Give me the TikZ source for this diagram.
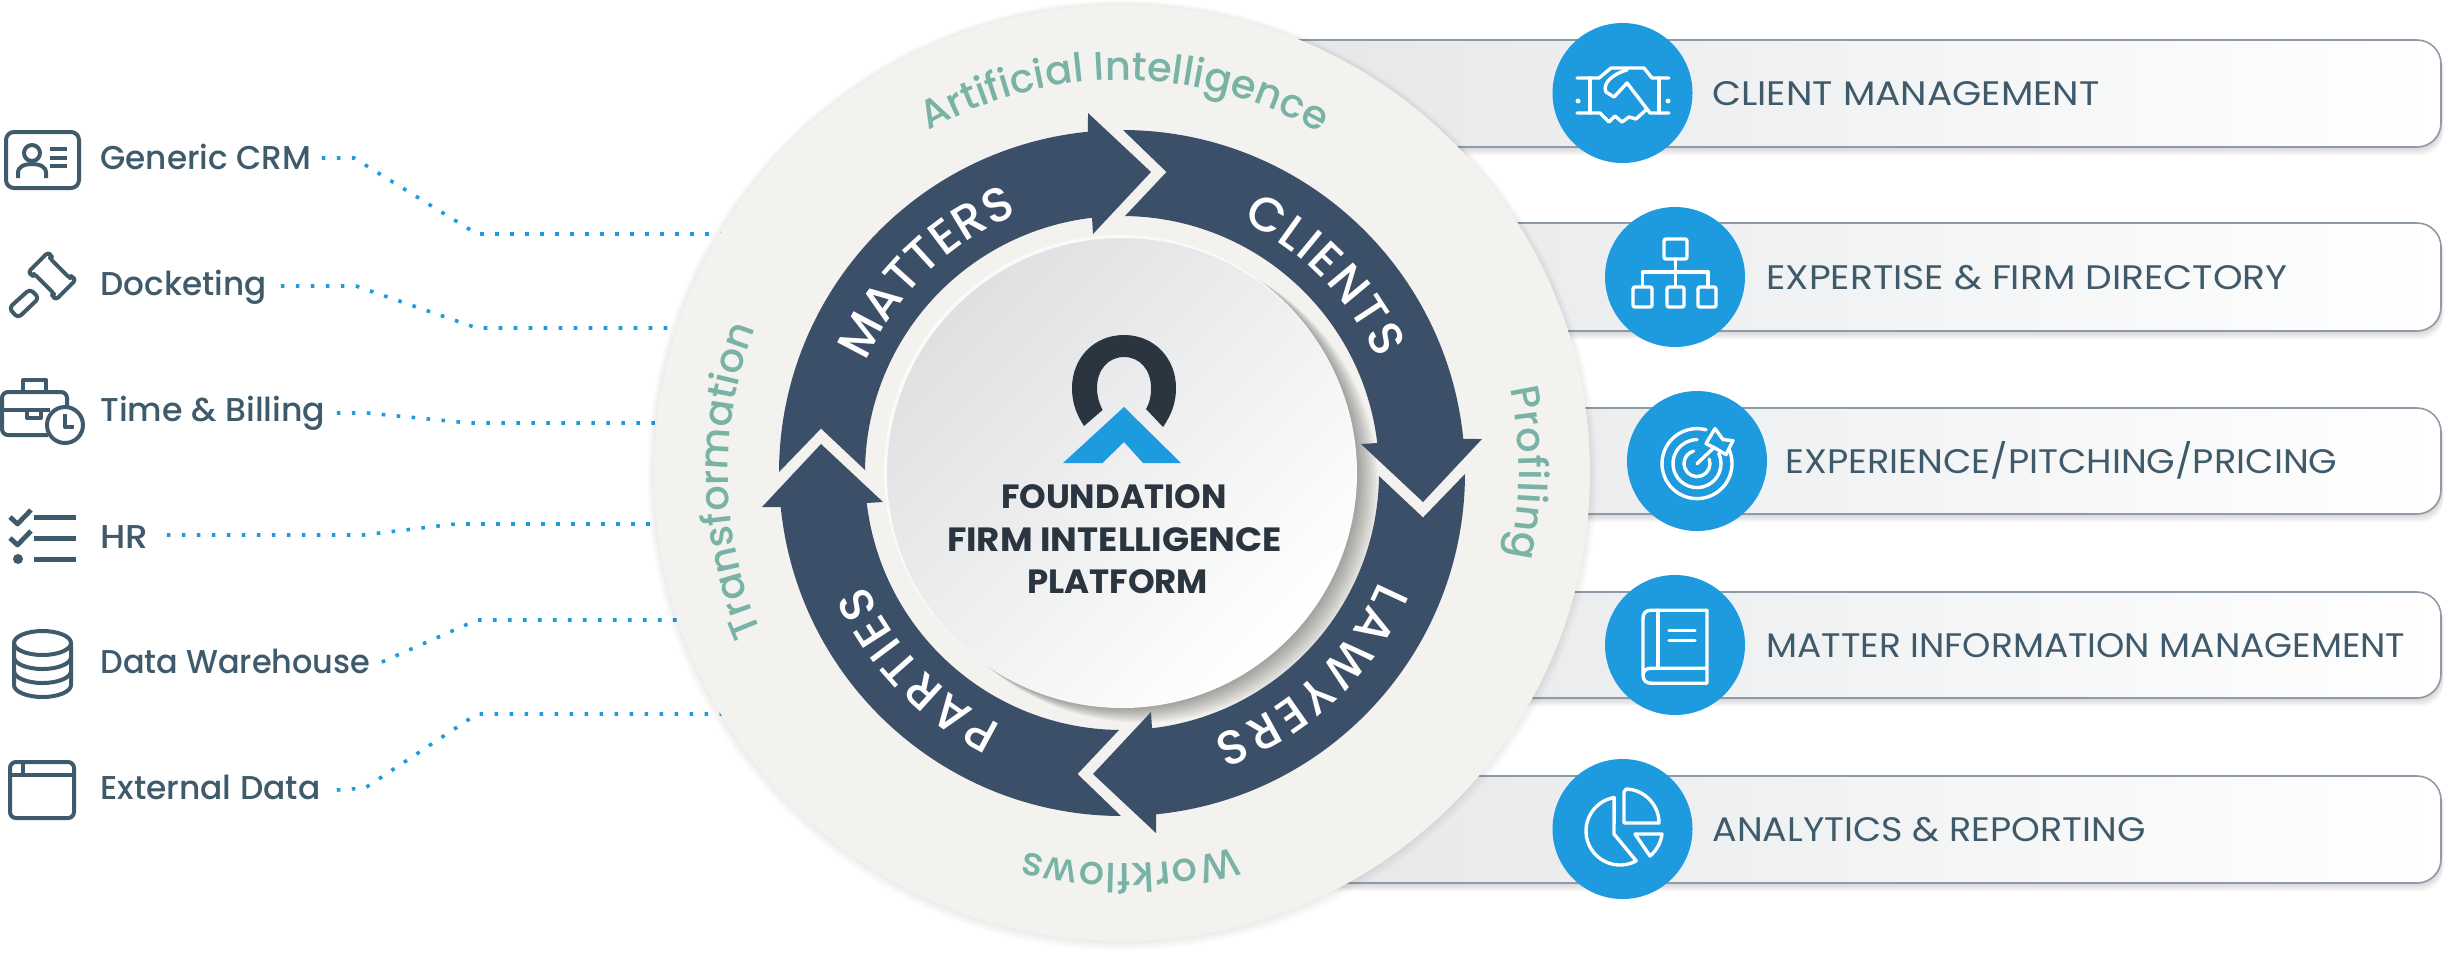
\documentclass[tikz,border=0pt]{standalone}
\usepackage{fontspec}
\usepackage{graphicx}
\setmainfont{Poppins}
\newfontfamily\lblfont{Poppins Medium}
\usetikzlibrary{decorations.text,calc}
\pgfdeclarelayer{under}
\pgfsetlayers{under,main}
\definecolor{slate}{HTML}{3F5B6B}
\definecolor{navy}{HTML}{3C4F68}
\definecolor{bluec}{HTML}{1E9ADE}
\definecolor{sand}{HTML}{F3F2EE}
\definecolor{greenc}{HTML}{78B3A6}
\definecolor{inkc}{HTML}{2B3540}
\definecolor{barline}{HTML}{8E9AA8}
\definecolor{barleft}{HTML}{E3E5E7}
\definecolor{barmid}{HTML}{F3F4F4}
\definecolor{discA}{HTML}{DFE0E2}
\definecolor{discB}{HTML}{F4F5F5}
\newcommand\tw[2]{\resizebox{\dimexpr#1pt/2\relax}{\height}{#2}}
\newcommand\greenfmt{\lblfont\fontsize{20}{20}\selectfont\color{greenc}}
\newcommand\whitefmt{\lblfont\fontsize{24}{24}\selectfont\color{white}}
\newcommand\ringlabel[5]{\path[decorate,decoration={text along path,text={|#4|#5},text align=fit to path}] (1122,473)++(#2:#1) arc[start angle=#2,end angle=#3,radius=#1];}
\tikzset{
  leftlabel/.style={anchor=west,inner sep=0pt,text height=11.5pt,text depth=0pt,text=slate,font=\lblfont\fontsize{16.5}{18}\selectfont},
  rightlabel/.style={anchor=west,inner sep=0pt,text height=12pt,text depth=0pt,text=slate,font=\fontsize{17}{20}\selectfont},
  titlelabel/.style={anchor=base,inner sep=0pt,text=inkc,font=\bfseries\fontsize{16.8}{20}\selectfont},
  dots/.style={draw=bluec,line width=1.8pt,dash pattern=on 1.8pt off 5.7pt},
  darkicon/.style={draw=slate,line width=2pt,line join=round,fill=none},
  wline/.style={draw=white,line width=1.7pt,line join=round,line cap=round,fill=none},
  bluedisc/.style={circle,fill=bluec,inner sep=0pt,minimum size=70pt},
  hubdisc/.style={circle,inner sep=0pt,minimum size=468pt}
}
\begin{document}
\begin{tikzpicture}[x=0.5pt,y=-0.5pt]
\useasboundingbox (0,0) rectangle (2451,955);

% ---------- named hub and left labels
\node[hubdisc] (disc) at (1122,473) {};
\node[leftlabel] (crm) at (100,158) {\tw{211}{Generic CRM}};
\node[leftlabel] (dock) at (100,284) {\tw{166}{Docketing}};
\node[leftlabel] (time) at (100,410) {\tw{225}{Time \& Billing}};
\node[leftlabel] (hr) at (100,537) {\tw{48}{HR}};
\node[leftlabel] (dw) at (100,662) {\tw{270}{Data Warehouse}};
\node[leftlabel] (ext) at (100,788) {\tw{220}{External Data}};

% ---------- connectors
\coordinate (a1) at (354,158); \coordinate (a2) at (477,234);
\coordinate (b1) at (356,286); \coordinate (b2) at (477,328);
\coordinate (c1) at (367,413); \coordinate (c2) at (470,423);
\coordinate (d1) at (363,535); \coordinate (d2) at (455,524);
\coordinate (e2) at (477,620);
\coordinate (f1) at (365,788); \coordinate (f2) at (477,714);
\begin{pgfonlayer}{under}
\fill[white] (0,0) rectangle (2451,955);
\draw[dots] ([xshift=5pt]crm.east) -- (a1) -- (a2) -- (a2 -| disc.center);
\draw[dots] ([xshift=7pt,yshift=-1pt]dock.east) -- (b1) -- (b2) -- (b2 -| disc.center);
\draw[dots] ([xshift=5.5pt,yshift=-1.5pt]time.east) -- (c1) -- (c2) -- (c2 -| disc.center);
\draw[dots] ([xshift=9pt,yshift=1pt]hr.east) -- (d1) -- (d2) -- (d2 -| disc.center);
\draw[dots] ([xshift=5.5pt]dw.east) -- (e2) -- (e2 -| disc.center);
\draw[dots] ([xshift=8pt,yshift=-1pt]ext.east) -- (f1) -- (f2) -- (f2 -| disc.center);
\end{pgfonlayer}

% ---------- right bars
\foreach \t/\b in {40/147,223/331,408/514,592/698,776/883}{
  \foreach \s in {1,...,7}{
    \fill[black,fill opacity=.022,rounded corners=12pt] (1200,\t+\s) rectangle (2441+.4*\s,\b+\s*1.2);
  }
  \shade[left color=barleft,middle color=barmid,right color=white,draw=barline,line width=.8pt,rounded corners=12pt] (1200,\t) rectangle (2441,\b);
}

% ---------- outer disc with soft edge
\foreach \s in {1,...,6}{
  \fill[black,fill opacity=.012] (1122,473+.4*\s) circle[radius=468+1.2*\s];
}
\fill[sand] (disc.center) circle[radius=468];

% ---------- shadow under inner disc
\foreach \s in {1,...,10}{
  \fill[black,fill opacity=.036] (1122+1.9*\s,473+1.25*\s) circle[radius=235+.2*\s];
}

% ---------- arrows of the ring
\foreach \a in {0,-90,-180,-270}{
\begin{scope}[shift={(1122,473)},rotate=\a]
  \fill[navy] (180.17:343) arc[start angle=180.17,end angle=264.3,radius=343]
     -- (-34,-360) -- (29,-301) -- (-29,-239) -- (263.3:257)
     arc[start angle=263.3,end angle=180.67,radius=257] -- (-301,-44.5) -- cycle;
\end{scope}
}

% ---------- inner disc
\fill[white!60!sand] (1120,471) circle[radius=236];
\shade[top color=discA,middle color=discB,bottom color=white,shading angle=45] (1122,473) circle[radius=235];

% ---------- logo
\fill[inkc] (1084,426) .. controls (1076,414) and (1072,402) .. (1072,388)
  .. controls (1072,358) and (1094,335) .. (1124,335)
  .. controls (1154,335) and (1176,358) .. (1176,388)
  .. controls (1176,402) and (1172,414) .. (1163,427)
  -- (1146,409) .. controls (1150,402) and (1151,396) .. (1151,388)
  .. controls (1151,370) and (1140,357) .. (1124,357)
  .. controls (1108,357) and (1097,370) .. (1097,388)
  .. controls (1097,396) and (1099,403) .. (1102.6,410) -- cycle;
\fill[bluec] (1124,407) -- (1181,463) -- (1143,463) -- (1124,442) -- (1102.5,463) -- (1063,463) -- cycle;

% ---------- title
\node[titlelabel] (t1) at (1114,508) {\tw{226}{FOUNDATION}};
\node[titlelabel] (t2) at (1114.5,551) {\tw{335}{FIRM INTELLIGENCE}};
\node[titlelabel] (t3) at (1117.5,593) {\tw{181}{PLATFORM}};

% ---------- text on the rings
\ringlabel{393}{240.5}{299.7}{\greenfmt}{Artificial Intelligence}
\ringlabel{397}{347.7}{372.3}{\greenfmt}{Profiling}
\ringlabel{391}{73.2}{104.4}{\greenfmt}{Workflows}
\ringlabel{394}{156.2}{201.6}{\greenfmt}{Transformation}
\ringlabel{279}{203.4}{248}{\whitefmt}{MATTERS}
\ringlabel{279}{295.5}{336}{\whitefmt}{CLIENTS}
\ringlabel{279}{22.8}{71}{\whitefmt}{LAWYERS}
\ringlabel{279}{115.5}{156.5}{\whitefmt}{PARTIES}

% ---------- blue discs and right labels
\node[bluedisc] (k1) at (1622.5,93) {};
\node[bluedisc] (k2) at (1675,277) {};
\node[bluedisc] (k3) at (1697,461) {};
\node[bluedisc] (k4) at (1675,645) {};
\node[bluedisc] (k5) at (1622.5,829) {};
\node[rightlabel] (r1) at (1712,93) {\tw{387}{CLIENT MANAGEMENT}};
\node[rightlabel] (r2) at (1766,277) {\tw{521}{EXPERTISE \& FIRM DIRECTORY}};
\node[rightlabel] (r3) at (1785,461) {\tw{552}{EXPERIENCE/PITCHING/PRICING}};
\node[rightlabel] (r4) at (1766,645) {\tw{639}{MATTER INFORMATION MANAGEMENT}};
\node[rightlabel] (r5) at (1712,829) {\tw{433}{ANALYTICS \& REPORTING}};

% ---------- white icons: handshake
\draw[wline] (1577,78) -- (1599,78) -- (1611,68) -- (1644,68) -- (1652,78) -- (1669,78);
\draw[wline] (1590,78) -- (1590,113); \draw[wline] (1659,78) -- (1659,113);
\draw[wline] (1577,113) -- (1600,113) -- (1609,122) -- (1615,116) -- (1622,122) -- (1629,117) -- (1636,119) -- (1647,109) -- (1650,113) -- (1669,113);
\draw[wline] (1627,70) .. controls (1612,74) and (1602,84) .. (1606,92) -- (1614,97) -- (1627,83) -- (1647,109);
\fill[white] (1578,101) circle[radius=2.5]; \fill[white] (1668,101) circle[radius=2.5];

% org chart
\draw[wline,rounded corners=1pt] (1664,239) rectangle (1687,259);
\draw[wline] (1675.5,259) -- (1675.5,287);
\draw[wline] (1642.5,287) -- (1642.5,272) -- (1708,272) -- (1708,287);
\foreach \x/\y in {1633/1652,1667/1684,1698/1716}{
  \draw[wline,rounded corners=1pt] (\x,287) rectangle (\y,307);
}

% target
\begin{scope}[yshift=-.8pt]
\begin{scope}[shift={(1697,462)}]
  \draw[wline] (-30:35) arc[start angle=-30,end angle=285,radius=35];
  \draw[wline] (-25:24) arc[start angle=-25,end angle=270,radius=24];
  \draw[wline] (-20:13) arc[start angle=-20,end angle=255,radius=13];
\end{scope}
\draw[wline] (1697,462) -- (1716,444);
\draw[wline,fill=bluec] (1715,427) -- (1723,438) -- (1733,439) -- (1726,453) -- (1716,447) -- (1706,442) -- cycle;
\end{scope}

% book
\begin{scope}[yshift=-1.6pt]
\draw[wline] (1707,665) -- (1707,607) -- (1651,607) .. controls (1646,607) and (1643,610) .. (1643,615) -- (1643,672) .. controls (1643,677) and (1646,680) .. (1651,680) -- (1707,680) -- (1707,665) -- (1651,665) .. controls (1646,665) and (1643,668) .. (1643,672);
\draw[wline] (1658,607) -- (1658,665);
\draw[wline] (1669,627) -- (1695,627);
\draw[wline] (1669,637) -- (1695,637);
\end{scope}

% pie
\begin{scope}[yshift=-3pt]
\draw[wline] (1620,825)++(260:34) arc[start angle=260,end angle=61.6,radius=34] -- (1614,828) -- cycle;
\draw[wline] (1624,786) -- (1624,817) -- (1659,817) arc[start angle=0,end angle=-88,radius=34] -- cycle;
\draw[wline] (1635,828) -- (1662,828) .. controls (1661,836) and (1657,844) .. (1650,850) -- cycle;
\end{scope}

% ---------- dark icons: id card
\draw[darkicon,rounded corners=4pt] (6,132) rectangle (79,188);
\draw[darkicon] (32,153) circle[radius=8];
\draw[darkicon] (18,178) -- (18,173) .. controls (18,166) and (25,164) .. (32,164) .. controls (39,164) and (46,166) .. (46,173) -- (46,178);
\draw[darkicon] (50,149) -- (67,149); \draw[darkicon] (50,157.5) -- (67,157.5); \draw[darkicon] (50,166) -- (67,166);

% gavel
\draw[darkicon,rounded corners=1.5pt] (48.1,252.3) -- (52,256.2) -- (49.9,258.3) -- (69.7,278.1) -- (71.8,276) -- (75.7,279.9) -- (55.9,299.7) -- (52,295.8) -- (54.1,293.7) -- (34.3,273.9) -- (32.2,276) -- (28.3,272.1) -- cycle;
\draw[darkicon,rounded corners=2pt] (30,289) -- (39,298) -- (18,318) -- (9,308) -- cycle;

% briefcase
\draw[darkicon] (23,392) -- (23,380) -- (46,380) -- (46,392);
\draw[darkicon,rounded corners=3pt] (48,435) -- (2,435) -- (2,392) -- (67,392) -- (67,408);
\draw[darkicon] (2,410) -- (50,410);
\draw[darkicon] (27,410) -- (27,418) -- (41,418) -- (41,410);
\draw[darkicon,fill=white] (65,425) circle[radius=18];
\draw[darkicon] (65,414) -- (65,427) -- (74,427);

% check list
\draw[darkicon,line width=2.4pt] (10,517) -- (17.5,524) -- (31,510);
\draw[darkicon,line width=2.4pt] (10,538) -- (17.5,545) -- (31,531);
\fill[slate] (18,559) circle[radius=5];
\draw[darkicon,line width=2.5pt] (34,517) -- (76,517);
\draw[darkicon,line width=2.5pt] (34,538) -- (76,538);
\draw[darkicon,line width=2.5pt] (34,559) -- (76,559);

% database
\draw[darkicon] (42.5,643) ellipse[x radius=28.5,y radius=12];
\draw[darkicon] (14,643) -- (14,685) arc[start angle=180,end angle=0,x radius=28.5,y radius=12] -- (71,643);
\draw[darkicon] (14,657) arc[start angle=180,end angle=0,x radius=28.5,y radius=12];
\draw[darkicon] (14,671) arc[start angle=180,end angle=0,x radius=28.5,y radius=12];

% window
\draw[darkicon,rounded corners=3pt] (10,762) rectangle (74,818);
\draw[darkicon] (10,775) -- (74,775);
\draw[darkicon] (23,762) -- (23,775);
\end{tikzpicture}
\end{document}
